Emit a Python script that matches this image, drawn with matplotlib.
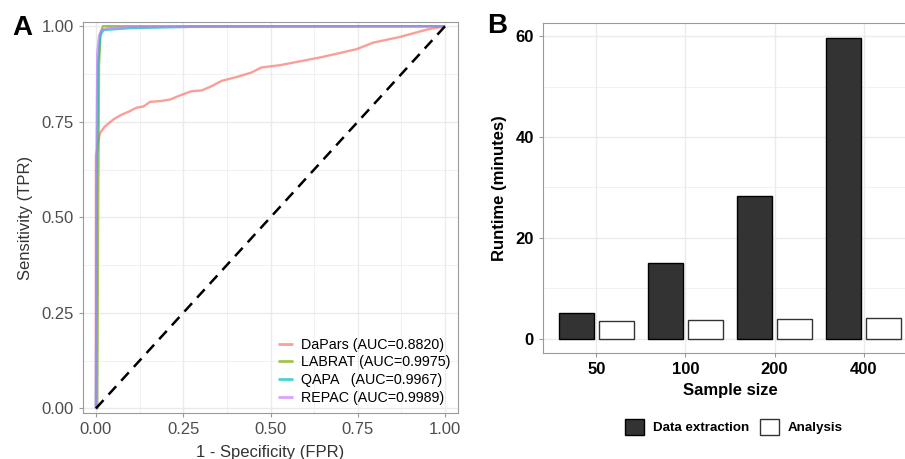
import matplotlib.pyplot as plt
import numpy as np

plt.rcParams['font.family'] = ['Liberation Sans', 'DejaVu Sans']

# Panel A: ROC curves
dapars_fpr = [0.0, 0.0, 0.0, 0.011, 0.025, 0.05, 0.07, 0.093, 0.117, 0.136, 0.155, 0.183,
              0.212, 0.241, 0.274, 0.303, 0.331, 0.36, 0.403, 0.446, 0.474, 0.527, 0.584,
              0.651, 0.747, 0.794, 0.871, 0.947, 1.0]
dapars_tpr = [0.0, 0.40, 0.66, 0.719, 0.737, 0.756, 0.767, 0.776, 0.787, 0.790, 0.802, 0.804,
              0.808, 0.819, 0.830, 0.832, 0.843, 0.857, 0.867, 0.879, 0.892, 0.898, 0.908,
              0.920, 0.940, 0.957, 0.972, 0.991, 1.0]
labrat_fpr = [0.0, 0.004, 0.006, 0.009, 0.013, 0.02, 1.0]
labrat_tpr = [0.0, 0.0, 0.45, 0.90, 0.98, 1.0, 1.0]
qapa_fpr = [0.0, 0.002, 0.006, 0.012, 0.022, 0.1, 0.3, 1.0]
qapa_tpr = [0.0, 0.5, 0.90, 0.975, 0.99, 0.995, 0.999, 1.0]
repac_fpr = [0.0, 0.001, 0.004, 0.009, 0.016, 0.035, 0.1, 1.0]
repac_tpr = [0.0, 0.6, 0.93, 0.975, 0.99, 0.995, 0.998, 1.0]
roc_labels = ['DaPars (AUC=0.8820)', 'LABRAT (AUC=0.9975)',
              'QAPA   (AUC=0.9967)', 'REPAC (AUC=0.9989)']
roc_colors = ['#F8766D', '#7CAE00', '#00BFC4', '#C77CFF']

# Panel B: runtime
sizes = ['50', '100', '200', '400']
extraction = [5.2, 15.0, 28.4, 59.6]
analysis = [3.6, 3.8, 4.0, 4.1]

fig = plt.figure(figsize=(9.05, 4.59), dpi=100)
W, H = 905, 459

def box(l, t, r, b):
    return [l / W, 1 - b / H, (r - l) / W, (b - t) / H]

grid_c = '#EBEBEB'
border_c = '#9A9A9A'

# ---------- A ----------
ax = fig.add_axes(box(83, 22, 458, 413))
curves = [(dapars_fpr, dapars_tpr), (labrat_fpr, labrat_tpr),
          (qapa_fpr, qapa_tpr), (repac_fpr, repac_tpr)]
for (fx, ty), lab, c in zip(curves, roc_labels, roc_colors):
    ax.plot(fx, ty, color=c, lw=1.7, alpha=0.7, label=lab, solid_capstyle='butt')
ax.plot([0, 1.008], [0, 1.008], color='black', lw=1.8, dashes=(4.5, 3))
ax.set_xlim(-0.037, 1.037)
ax.set_ylim(-0.012, 1.011)
ticks = [0, 0.25, 0.5, 0.75, 1.0]
ax.set_xticks(ticks)
ax.set_yticks(ticks)
ax.set_xticklabels(['0.00', '0.25', '0.50', '0.75', '1.00'])
ax.set_yticklabels(['0.00', '0.25', '0.50', '0.75', '1.00'])
ax.set_xticks([0.125, 0.375, 0.625, 0.875], minor=True)
ax.set_yticks([0.125, 0.375, 0.625, 0.875], minor=True)
ax.grid(True, which='major', color=grid_c, lw=1.0)
ax.grid(True, which='minor', color=grid_c, lw=0.5)
ax.set_axisbelow(True)
ax.tick_params(which='major', labelsize=12, color=border_c, length=3, labelcolor='#4D4D4D')
ax.tick_params(which='minor', length=0)
for s in ax.spines.values():
    s.set_color(border_c)
ax.set_xlabel('1 - Specificity (FPR)', fontsize=12, color='#333333', labelpad=6)
ax.set_ylabel('Sensitivity (TPR)', fontsize=12, color='#333333', labelpad=6)
leg = ax.legend(loc='lower right', frameon=False, fontsize=10.3, handlelength=1.0,
                handletextpad=0.55, labelspacing=0.27, borderaxespad=0.15)
for h in leg.get_lines():
    h.set_linewidth(2.0)
fig.text(12 / W, 1 - 28 / H, 'A', fontsize=20, fontweight='bold', va='center')

# ---------- B ----------
bx = fig.add_axes(box(543, 23, 917, 353))
x = np.arange(len(sizes))
bx.bar(x - 0.225, extraction, width=0.4, color='#333333', edgecolor='black', lw=1.0,
       label='Data extraction')
bx.bar(x + 0.225, analysis, width=0.4, color='white', edgecolor='#333333', lw=1.0,
       label='Analysis')
bx.set_xlim(-0.6, 3.6)
bx.set_ylim(-2.8, 62.6)
bx.set_xticks(x)
bx.set_xticklabels(sizes)
bx.set_yticks([0, 20, 40, 60])
bx.set_yticks([10, 30, 50], minor=True)
bx.grid(True, which='major', color=grid_c, lw=1.0)
bx.grid(True, which='minor', axis='y', color=grid_c, lw=0.5)
bx.set_axisbelow(True)
bx.tick_params(which='major', labelsize=12, color=border_c, length=3)
bx.tick_params(which='minor', length=0)
for lab in bx.get_xticklabels() + bx.get_yticklabels():
    lab.set_fontweight('bold')
for s in bx.spines.values():
    s.set_color(border_c)
bx.set_xlabel('Sample size', fontsize=12, fontweight='bold', labelpad=4)
bx.set_ylabel('Runtime (minutes)', fontsize=12, fontweight='bold', labelpad=6)
lg = bx.legend(loc='upper center', bbox_to_anchor=(734 / W, 1 - 407 / H),
               bbox_transform=fig.transFigure, ncol=2, frameon=False,
               prop={'size': 9.6, 'weight': 'bold'}, handlelength=1.45, handleheight=1.45,
               handletextpad=0.65, columnspacing=0.8)
fig.text(487 / W, 1 - 26 / H, 'B', fontsize=20, fontweight='bold', va='center')

fig.savefig('out.png', dpi=100)
